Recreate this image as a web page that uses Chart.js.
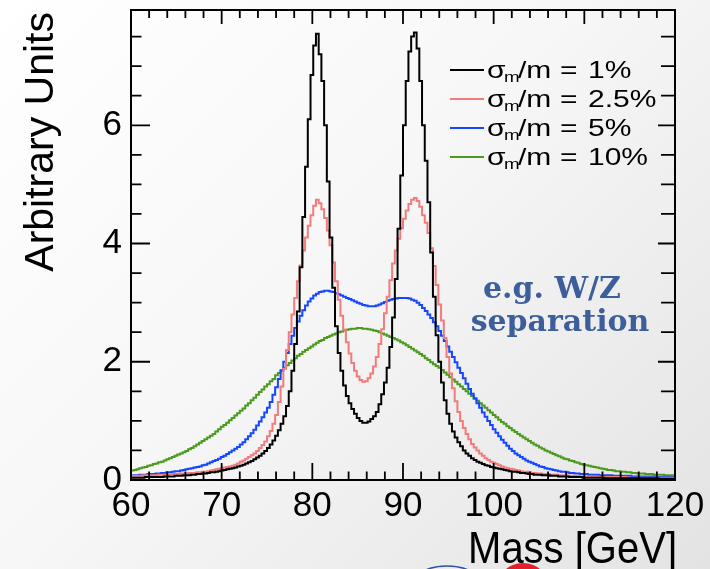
<!DOCTYPE html>
<html>
<head>
<meta charset="utf-8">
<script src="https://cdn.jsdelivr.net/npm/chart.js@4.4.1/dist/chart.umd.min.js"></script>
<style>
  html, body { margin: 0; padding: 0; }
  body {
    width: 710px; height: 569px; overflow: hidden;
    background: linear-gradient(135deg, #ffffff 0%, #f7f7f7 45%, #e3e3e3 100%);
  }
  canvas { display: block; }
</style>
</head>
<body>
<canvas id="massChart" width="710" height="569"></canvas>
<script>
// Histogram binning: 200 bins of 0.3 GeV between 60 and 120 GeV
const massMin = 60;
const massMax = 120;
const binWidth = 0.3;

const xTickValues = [60, 70, 80, 90, 100, 110, 120];
const yTickValues = [0, 2, 4, 6];
const yAxisMax = 7.95;

const resolutionLabels = ['1%', '2.5%', '5%', '10%'];
const seriesColors = ['#000000', '#f27b7b', '#1446ff', '#4a9a1e'];

// Bin contents (arbitrary units), one row per 3 GeV
const res1pct = [
  0.04,0.04,0.04,0.04,0.04,0.05,0.05,0.05,0.05,0.05,
  0.05,0.05,0.06,0.06,0.06,0.06,0.07,0.07,0.07,0.08,
  0.08,0.08,0.09,0.09,0.10,0.10,0.11,0.11,0.12,0.13,
  0.13,0.14,0.15,0.16,0.17,0.18,0.19,0.20,0.21,0.23,
  0.24,0.26,0.28,0.30,0.32,0.35,0.38,0.41,0.45,0.49,
  0.54,0.60,0.67,0.75,0.84,0.95,1.08,1.25,1.50,1.85,
  2.30,2.85,3.60,4.45,5.30,6.10,6.85,7.35,7.55,7.20,
  6.75,6.00,5.05,4.10,3.25,2.60,2.15,1.85,1.60,1.42,
  1.30,1.20,1.12,1.05,1.00,0.97,0.97,0.99,1.03,1.08,
  1.15,1.28,1.45,1.65,1.90,2.25,2.75,3.40,4.25,5.15,
  6.00,6.75,7.25,7.50,7.57,7.30,6.75,6.00,5.40,4.70,
  3.85,3.10,2.45,2.00,1.65,1.35,1.12,0.95,0.82,0.72,
  0.64,0.57,0.50,0.45,0.41,0.37,0.34,0.31,0.29,0.27,
  0.25,0.24,0.22,0.21,0.20,0.19,0.18,0.17,0.16,0.15,
  0.14,0.14,0.13,0.12,0.12,0.11,0.10,0.10,0.09,0.09,
  0.09,0.08,0.08,0.08,0.07,0.07,0.07,0.06,0.06,0.06,
  0.06,0.05,0.05,0.05,0.05,0.05,0.04,0.04,0.04,0.04,
  0.04,0.04,0.04,0.04,0.03,0.03,0.03,0.03,0.03,0.03,
  0.03,0.03,0.03,0.03,0.03,0.03,0.03,0.03,0.03,0.03,
  0.03,0.03,0.03,0.03,0.02,0.02,0.02,0.02,0.02,0.02
];

const res2p5pct = [
  0.07,0.07,0.07,0.07,0.08,0.08,0.08,0.08,0.08,0.08,
  0.09,0.09,0.09,0.09,0.10,0.10,0.10,0.10,0.11,0.11,
  0.11,0.12,0.12,0.12,0.13,0.13,0.14,0.14,0.15,0.16,
  0.17,0.18,0.19,0.20,0.21,0.22,0.23,0.24,0.26,0.28,
  0.31,0.33,0.36,0.39,0.42,0.45,0.49,0.54,0.59,0.65,
  0.74,0.83,0.95,1.10,1.32,1.58,1.88,2.20,2.50,2.80,
  3.08,3.36,3.63,3.88,4.10,4.30,4.48,4.64,4.74,4.68,
  4.58,4.43,4.22,3.97,3.68,3.36,3.05,2.78,2.54,2.33,
  2.14,1.98,1.85,1.75,1.69,1.66,1.67,1.72,1.80,1.92,
  2.08,2.30,2.55,2.82,3.10,3.38,3.66,3.88,4.08,4.26,
  4.42,4.56,4.67,4.74,4.77,4.72,4.62,4.48,4.35,4.18,
  3.92,3.62,3.30,2.97,2.70,2.40,2.08,1.80,1.55,1.33,
  1.15,1.00,0.88,0.78,0.69,0.61,0.55,0.50,0.45,0.41,
  0.37,0.34,0.31,0.29,0.27,0.25,0.23,0.21,0.20,0.19,
  0.18,0.17,0.16,0.15,0.14,0.14,0.13,0.12,0.12,0.11,
  0.11,0.10,0.10,0.10,0.09,0.09,0.09,0.08,0.08,0.08,
  0.07,0.07,0.07,0.07,0.07,0.06,0.06,0.06,0.06,0.06,
  0.06,0.06,0.05,0.05,0.05,0.05,0.05,0.05,0.05,0.05,
  0.05,0.05,0.04,0.04,0.04,0.04,0.04,0.04,0.04,0.04,
  0.04,0.04,0.04,0.04,0.04,0.04,0.04,0.04,0.04,0.04
];

const res5pct = [
  0.08,0.08,0.08,0.09,0.09,0.09,0.10,0.10,0.10,0.11,
  0.11,0.12,0.12,0.13,0.13,0.14,0.15,0.15,0.16,0.17,
  0.18,0.19,0.20,0.21,0.22,0.23,0.25,0.26,0.28,0.30,
  0.32,0.34,0.36,0.39,0.41,0.44,0.47,0.50,0.53,0.56,
  0.60,0.64,0.69,0.74,0.79,0.85,0.92,0.99,1.06,1.14,
  1.22,1.32,1.44,1.57,1.71,1.85,2.00,2.15,2.30,2.44,
  2.57,2.68,2.78,2.87,2.95,3.02,3.07,3.12,3.15,3.18,
  3.19,3.20,3.20,3.19,3.18,3.16,3.14,3.12,3.10,3.08,
  3.06,3.04,3.02,3.00,2.98,2.96,2.95,2.94,2.94,2.94,
  2.95,2.97,2.99,3.01,3.03,3.05,3.06,3.07,3.08,3.08,
  3.08,3.08,3.07,3.05,3.03,3.00,2.96,2.91,2.86,2.80,
  2.74,2.67,2.60,2.52,2.44,2.35,2.26,2.17,2.08,1.99,
  1.90,1.81,1.72,1.63,1.54,1.46,1.38,1.30,1.22,1.14,
  1.07,1.00,0.93,0.86,0.80,0.74,0.68,0.63,0.58,0.53,
  0.49,0.45,0.42,0.39,0.36,0.33,0.31,0.29,0.27,0.25,
  0.23,0.22,0.20,0.19,0.18,0.17,0.16,0.15,0.14,0.14,
  0.13,0.12,0.12,0.11,0.11,0.10,0.10,0.10,0.09,0.09,
  0.09,0.09,0.08,0.08,0.08,0.08,0.08,0.07,0.07,0.07,
  0.07,0.07,0.07,0.07,0.06,0.06,0.06,0.06,0.06,0.06,
  0.06,0.06,0.06,0.05,0.05,0.05,0.05,0.05,0.05,0.05
];

const res10pct = [
  0.16,0.17,0.18,0.20,0.21,0.22,0.24,0.25,0.27,0.28,
  0.30,0.31,0.33,0.35,0.37,0.39,0.41,0.43,0.45,0.47,
  0.49,0.52,0.54,0.57,0.60,0.63,0.66,0.69,0.72,0.75,
  0.78,0.82,0.86,0.90,0.93,0.97,1.01,1.05,1.09,1.13,
  1.17,1.21,1.26,1.30,1.35,1.39,1.44,1.49,1.53,1.58,
  1.62,1.67,1.71,1.77,1.81,1.86,1.90,1.94,1.98,2.02,
  2.06,2.10,2.13,2.17,2.20,2.23,2.26,2.29,2.32,2.35,
  2.37,2.40,2.42,2.44,2.46,2.48,2.50,2.51,2.53,2.54,
  2.55,2.56,2.56,2.57,2.57,2.56,2.56,2.55,2.54,2.53,
  2.52,2.50,2.48,2.46,2.44,2.42,2.40,2.38,2.36,2.33,
  2.31,2.28,2.25,2.22,2.19,2.16,2.13,2.10,2.06,2.03,
  1.99,1.96,1.93,1.90,1.86,1.82,1.78,1.74,1.70,1.66,
  1.62,1.58,1.54,1.50,1.46,1.42,1.38,1.34,1.30,1.26,
  1.22,1.18,1.14,1.10,1.06,1.02,0.98,0.95,0.91,0.88,
  0.84,0.81,0.78,0.75,0.72,0.69,0.66,0.63,0.60,0.58,
  0.55,0.53,0.50,0.48,0.46,0.44,0.42,0.40,0.38,0.36,
  0.35,0.33,0.32,0.30,0.29,0.27,0.26,0.25,0.24,0.23,
  0.22,0.21,0.20,0.19,0.18,0.17,0.17,0.16,0.15,0.15,
  0.14,0.14,0.13,0.13,0.12,0.12,0.11,0.11,0.11,0.10,
  0.10,0.10,0.09,0.09,0.09,0.09,0.08,0.08,0.08,0.08
];

const seriesValues = [res1pct, res2p5pct, res5pct, res10pct];

// Turn bin contents into step points at the lower bin edges (plus the closing edge)
function histogramPoints(values) {
  const pts = values.map((v, i) => ({ x: massMin + i * binWidth, y: v }));
  pts.push({ x: massMax, y: values[values.length - 1] });
  return pts;
}

const SANS = '"Liberation Sans", Arial, Helvetica, sans-serif';

// Keep the plot frame exactly where the axes are fitted
function noEdgePadding(s) {
  s.paddingTop = 0; s.paddingBottom = 0; s.paddingLeft = 0; s.paddingRight = 0;
}

// ROOT-style frame with inward tick marks on all four sides
const frameTicks = {
  id: 'frameTicks',
  afterDatasetsDraw(chart) {
    const { ctx, chartArea: a, scales: { x, y } } = chart;
    ctx.save();
    ctx.strokeStyle = '#000';
    ctx.lineWidth = 2;
    ctx.strokeRect(a.left, a.top, a.right - a.left, a.bottom - a.top);
    ctx.lineWidth = 1.8;
    ctx.beginPath();
    for (let k = 0; k <= 30; k++) {
      const v = massMin + k * 2;
      const px = x.getPixelForValue(v);
      const major = k % 5 === 0;
      ctx.moveTo(px, a.bottom); ctx.lineTo(px, a.bottom - (major ? 17 : 8.5));
      ctx.moveTo(px, a.top);    ctx.lineTo(px, a.top + (major ? 14 : 8));
    }
    for (let k = 0; k * 0.5 <= yAxisMax; k++) {
      const v = k * 0.5;
      const py = y.getPixelForValue(v);
      const major = k % 4 === 0;
      ctx.moveTo(a.left, py);  ctx.lineTo(a.left + (major ? 19 : 10.5), py);
      ctx.moveTo(a.right, py); ctx.lineTo(a.right - (major ? 17 : 14), py);
    }
    ctx.stroke();
    ctx.restore();
  }
};

// Axis titles, legend, annotation and the slide footer marks
const decorations = {
  id: 'decorations',
  afterDraw(chart) {
    const { ctx } = chart;
    ctx.save();
    ctx.fillStyle = '#000';
    ctx.textBaseline = 'alphabetic';

    // x title, slightly tall lettering
    ctx.save();
    ctx.translate(677, 563);
    ctx.scale(1, 1.12);
    ctx.font = '40px ' + SANS;
    ctx.textAlign = 'right';
    ctx.fillText('Mass [GeV]', 0, 0);
    ctx.restore();

    // y title
    ctx.save();
    ctx.translate(53, 12);
    ctx.rotate(-Math.PI / 2);
    ctx.font = '41px ' + SANS;
    ctx.textAlign = 'right';
    ctx.fillText('Arbitrary Units', 0, 0);
    ctx.restore();

    // legend (wide lettering)
    const drawWide = (text, x, y, size) => {
      ctx.save();
      ctx.translate(x, y);
      ctx.scale(1.25, 1);
      ctx.font = size + 'px ' + SANS;
      ctx.textAlign = 'left';
      ctx.fillText(text, 0, 0);
      ctx.restore();
    };
    chart.data.datasets.forEach((ds, i) => {
      const rowY = 70 + i * 29;
      ctx.strokeStyle = ds.borderColor;
      ctx.lineWidth = 2;
      ctx.beginPath();
      ctx.moveTo(450, rowY);
      ctx.lineTo(484, rowY);
      ctx.stroke();
      ctx.fillStyle = '#000';
      drawWide('\u03c3', 487, rowY + 8, 24);
      drawWide('m', 504, rowY + 12, 15);
      drawWide('/m', 518, rowY + 8, 24);
      drawWide('=', 560, rowY + 8, 24);
      drawWide(resolutionLabels[i], 588, rowY + 8, 24);
    });

    // annotation
    ctx.fillStyle = '#3c5f9c';
    ctx.font = 'bold 30px "DejaVu Serif", serif';
    ctx.textAlign = 'center';
    ctx.fillText('e.g. W/Z', 552, 298);
    ctx.fillText('separation', 560, 331);

    // footer marks peeking in at the bottom edge
    ctx.strokeStyle = '#2a55a8';
    ctx.lineWidth = 1.5;
    ctx.beginPath();
    ctx.ellipse(447, 588, 37, 22, 0, Math.PI, 2 * Math.PI);
    ctx.stroke();
    ctx.fillStyle = '#e3212d';
    ctx.beginPath();
    ctx.arc(523, 590, 27, 0, 2 * Math.PI);
    ctx.fill();
    ctx.restore();
  }
};

new Chart(document.getElementById('massChart'), {
  type: 'line',
  data: {
    datasets: seriesValues.map((vals, i) => ({
      label: '\u03c3m/m = ' + resolutionLabels[i],
      data: histogramPoints(vals),
      borderColor: seriesColors[i],
      backgroundColor: seriesColors[i],
      borderWidth: 2,
      pointRadius: 0,
      stepped: 'before',
      fill: false
    }))
  },
  options: {
    responsive: false,
    animation: false,
    devicePixelRatio: 1,
    layout: { padding: { top: 10, right: 35, left: 0, bottom: 0 } },
    plugins: { legend: { display: false }, tooltip: { enabled: false } },
    scales: {
      x: {
        type: 'linear',
        min: massMin,
        max: massMax,
        afterBuildTicks: (s) => { s.ticks = xTickValues.map(v => ({ value: v })); },
        afterFit: (s) => { s.height = 89; noEdgePadding(s); },
        grid: { display: false, drawTicks: false },
        border: { display: false },
        ticks: {
          color: '#000',
          font: { family: SANS, size: 35 },
          padding: 5,
          maxRotation: 0,
          autoSkip: false
        }
      },
      y: {
        type: 'linear',
        min: 0,
        max: yAxisMax,
        afterBuildTicks: (s) => { s.ticks = yTickValues.map(v => ({ value: v })); },
        afterFit: (s) => { s.width = 131; noEdgePadding(s); },
        grid: { display: false, drawTicks: false },
        border: { display: false },
        ticks: {
          color: '#000',
          font: { family: SANS, size: 35 },
          padding: 9
        }
      }
    }
  },
  plugins: [frameTicks, decorations]
});
</script>
</body>
</html>
